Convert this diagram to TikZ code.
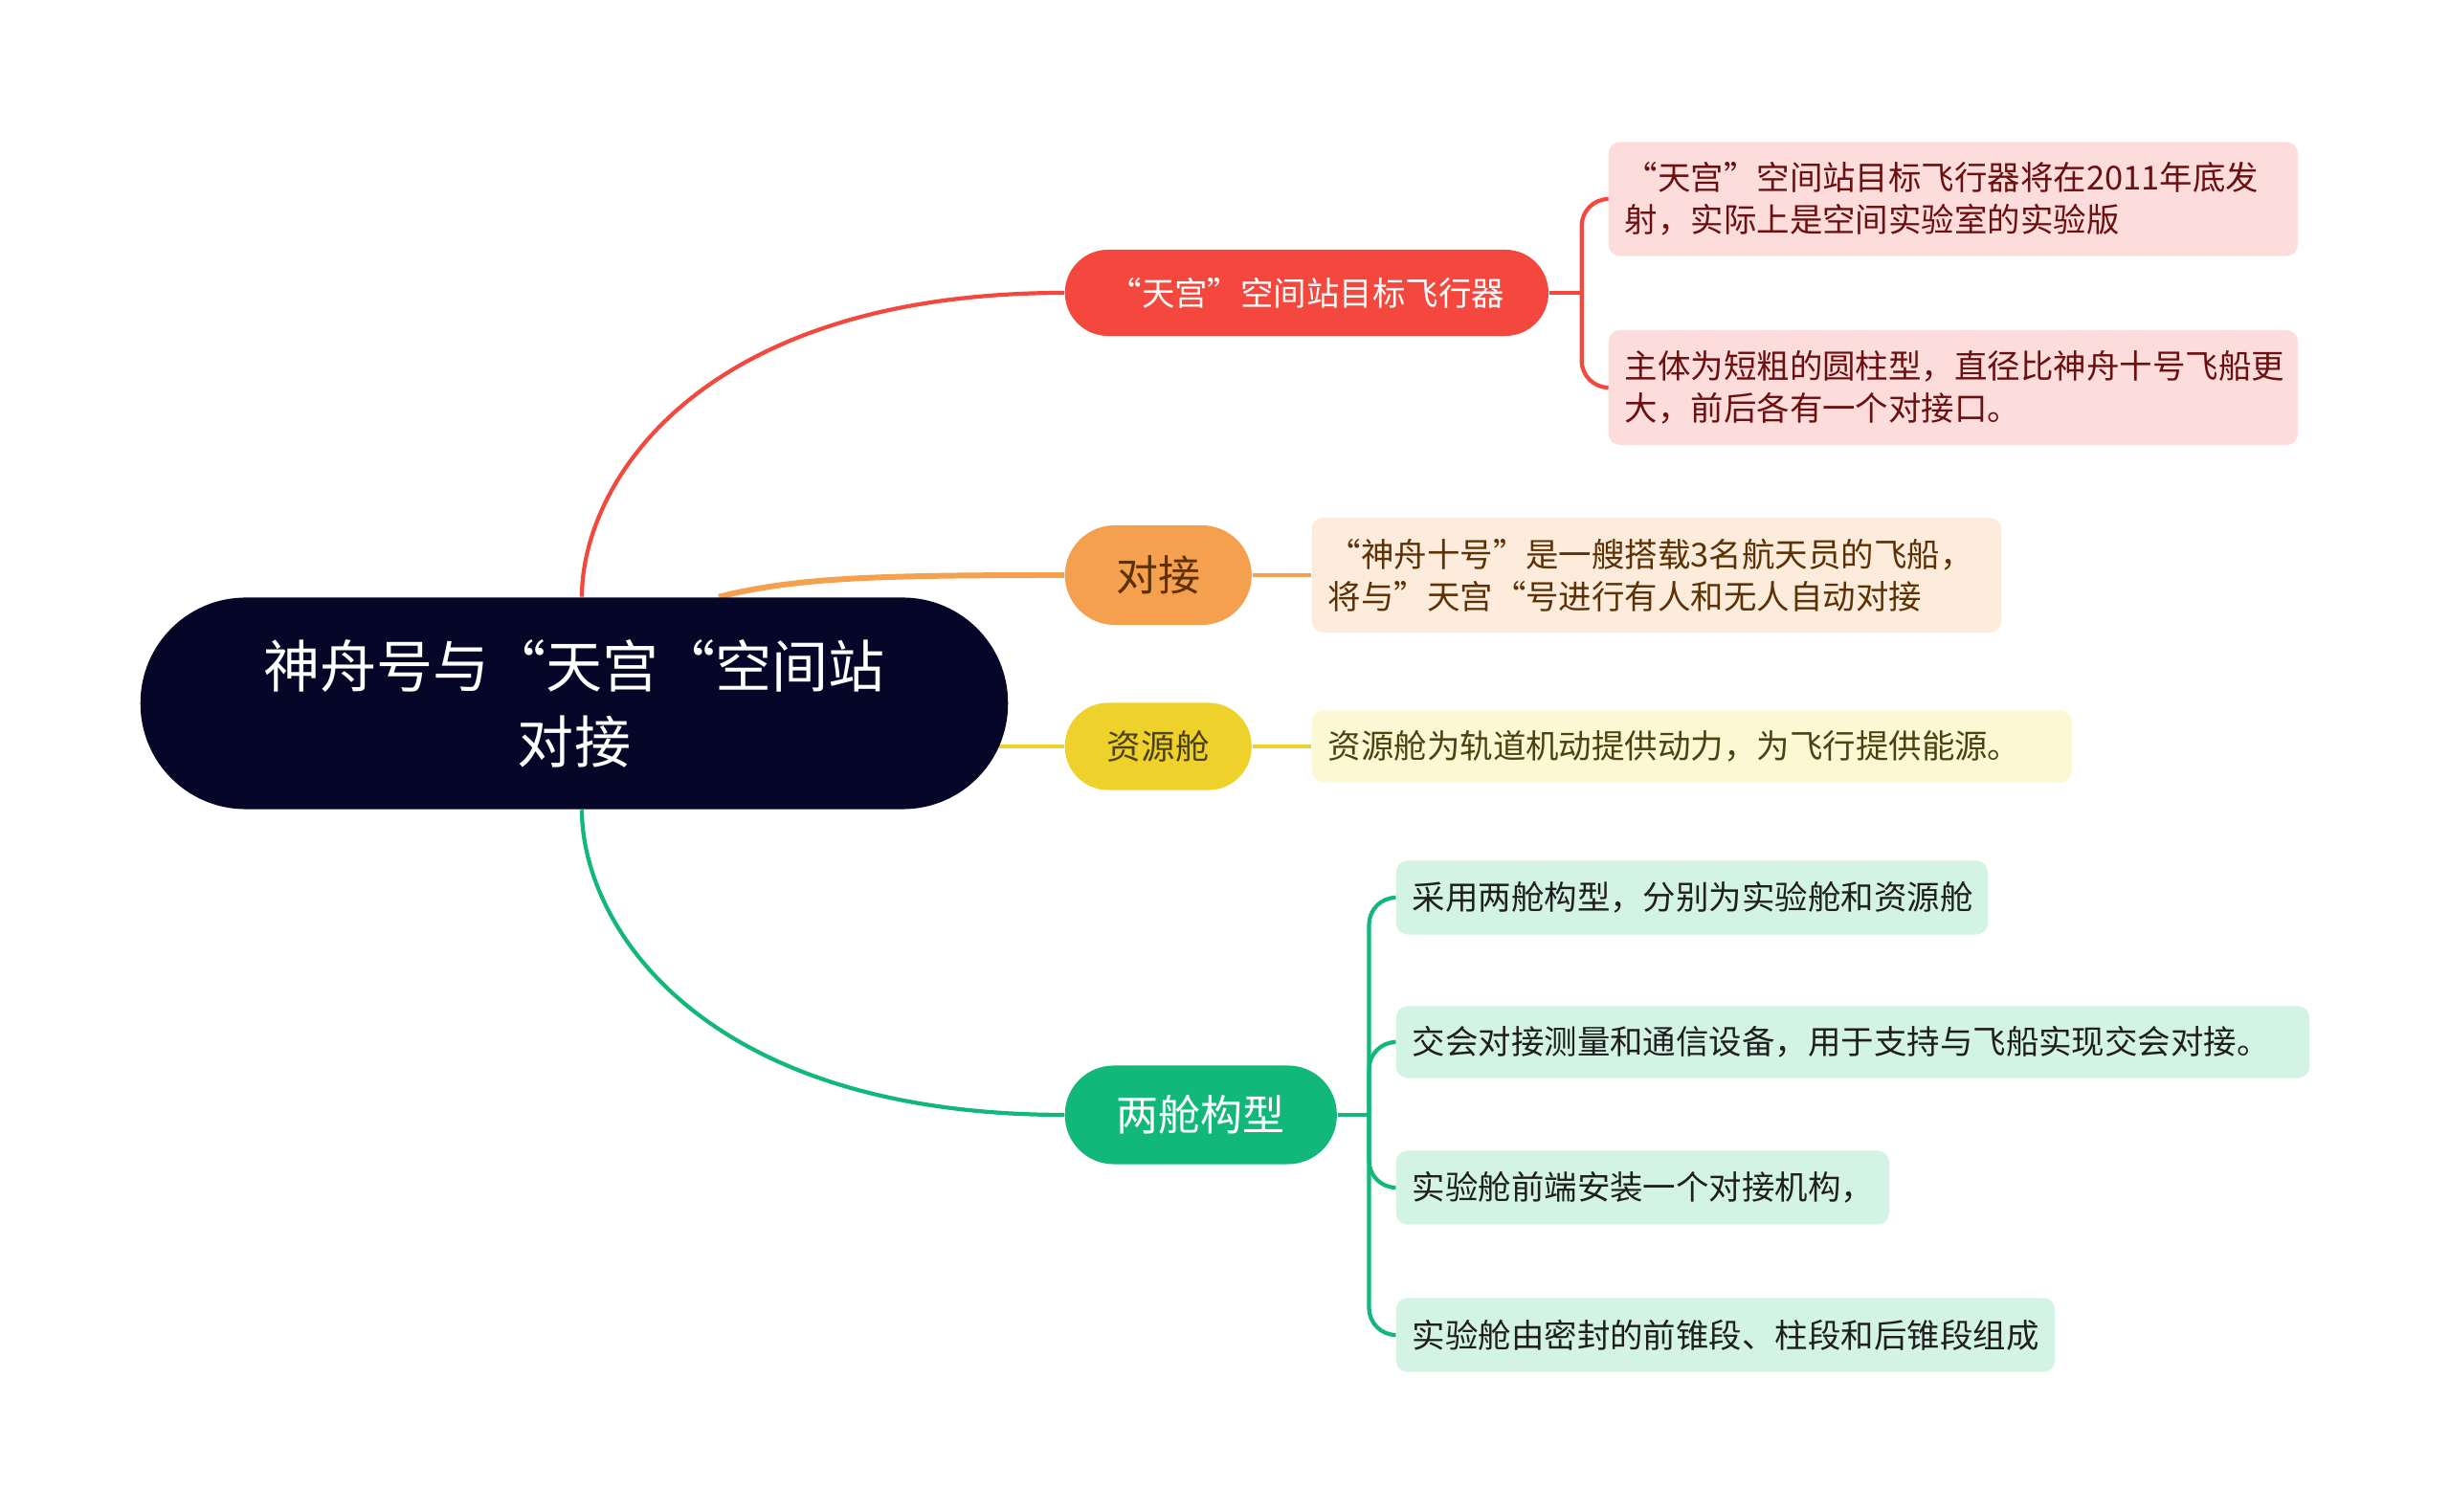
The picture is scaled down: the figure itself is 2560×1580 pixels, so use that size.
\documentclass[tikz,border=0pt]{standalone}
\usepackage{fontspec}
\setmainfont{Noto Sans CJK SC}
\usetikzlibrary{backgrounds}
\definecolor{navy}{HTML}{050628}
\definecolor{cred}{HTML}{F4473D}
\definecolor{corange}{HTML}{F5A04E}
\definecolor{cyellow}{HTML}{EFD12B}
\definecolor{cgreen}{HTML}{12B879}
\definecolor{lred}{HTML}{FDDCDC}
\definecolor{lorange}{HTML}{FDEBDC}
\definecolor{lyellow}{HTML}{FDF8D4}
\definecolor{lgreen}{HTML}{D3F3E5}
\definecolor{tred}{HTML}{6B1010}
\definecolor{tbrown}{HTML}{5B3206}
\definecolor{tolive}{HTML}{4C4211}
\definecolor{tdark}{HTML}{1F1F1F}

\begin{document}
\begin{tikzpicture}[x=0.01cm, y=-0.01cm,
  mid/.style={rounded corners=#1, inner sep=0pt, anchor=west},
  leaf/.style={rounded corners=0.12cm, inner xsep=0.17cm, inner ysep=0pt, anchor=west,
    align=left, text width=#1, font=\fontsize{9.8}{12.5}\selectfont},
  link/.style={line width=1.2pt},
  brace/.style={line width=1.2pt, rounded corners=0.28cm}]
  \useasboundingbox (0,0) rectangle (2560,1580);
  \node[fill=navy, text=white, rounded corners=1.1cm, minimum width=9.06cm, minimum height=2.21cm,
    align=center, font=\fontsize{16.8}{22.5}\selectfont] (root) at (600,735) {神舟号与“天宫“空间站\\对接};

  \node[mid=0.45cm, fill=cred, text=white, minimum width=5.05cm, minimum height=0.9cm,
    font=\fontsize{9.8}{12}\selectfont] (tg) at (1112,306) {“天宫”空间站目标飞行器};
  \node[mid=0.52cm, fill=corange, text=tbrown, minimum width=1.95cm, minimum height=1.04cm,
    font=\fontsize{12.5}{15}\selectfont] (dj) at (1112,601) {对接};
  \node[mid=0.45cm, fill=cyellow, text=tolive, minimum width=1.95cm, minimum height=0.91cm,
    font=\fontsize{10.1}{12}\selectfont] (zy) at (1112,780) {资源舱};
  \node[mid=0.51cm, fill=cgreen, text=white, minimum width=2.84cm, minimum height=1.03cm,
    font=\fontsize{12.5}{15}\selectfont] (lc) at (1112,1165) {两舱构型};

  \node[leaf=6.86cm, fill=lred, text=tred, minimum height=1.19cm] (tg1) at (1680,208)
    {“天宫”空间站目标飞行器将在2011年底发\\射，实际上是空间实验室的实验版};
  \node[leaf=6.86cm, fill=lred, text=tred, minimum height=1.2cm] (tg2) at (1680,405)
    {主体为短粗的圆柱型，直径比神舟十号飞船更\\大，前后各有一个对接口。};
  \node[leaf=6.86cm, fill=lorange, text=tbrown, minimum height=1.2cm] (dj1) at (1370,601)
    {“神舟十号”是一艘搭载3名航天员的飞船，\\将与”天宫“号进行有人和无人自动对接};
  \node[leaf=7.6cm, fill=lyellow, text=tolive, minimum height=0.75cm] (zy1) at (1370,780)
    {资源舱为轨道机动提供动力，为飞行提供能源。};
  \node[leaf=5.84cm, fill=lgreen, text=tdark, minimum height=0.77cm] (lc1) at (1458,938)
    {采用两舱构型，分别为实验舱和资源舱};
  \node[leaf=9.2cm, fill=lgreen, text=tdark, minimum height=0.75cm] (lc2) at (1458,1089)
    {交会对接测量和通信设备，用于支持与飞船实现交会对接。};
  \node[leaf=4.81cm, fill=lgreen, text=tdark, minimum height=0.77cm] (lc3) at (1458,1241)
    {实验舱前端安装一个对接机构，};
  \node[leaf=6.54cm, fill=lgreen, text=tdark, minimum height=0.77cm] (lc4) at (1458,1395)
    {实验舱由密封的前锥段、柱段和后锥段组成};

  \begin{scope}[on background layer]
    \draw[link, cred] ([xshift=0.08cm]root.north) .. controls +(0,-120) and +(-380,0) .. (tg.west);
    \draw[link, corange, line width=1.7pt] ([xshift=1.51cm]root.north) .. controls +(80,-20) and +(-200,0) .. (dj.west);
    \draw[link, cyellow] ([xshift=-0.2cm]root.east |- zy.west) -- (zy.west);
    \draw[link, cgreen] ([xshift=0.08cm]root.south) .. controls +(0,120) and +(-380,0) .. (lc.west);

    \draw[link, cred] (tg.east) -- ++(34,0) coordinate (tgj);
    \foreach \n in {tg1,tg2} \draw[brace, cred] (tgj) |- (\n.west);
    \draw[link, corange] (dj) -- (dj1);
    \draw[link, cyellow] (zy) -- (zy1);
    \draw[link, cgreen] (lc.east) -- ++(33,0) coordinate (lcj);
    \foreach \n in {lc1,lc2,lc3,lc4} \draw[brace, cgreen] (lcj) |- (\n.west);
  \end{scope}
\end{tikzpicture}
\end{document}
